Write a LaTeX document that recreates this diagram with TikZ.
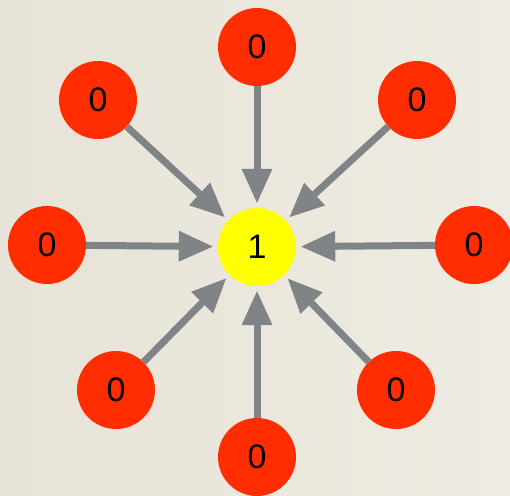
\documentclass[tikz,border=0pt]{standalone}
\usepackage{fontspec}
\setmainfont{Liberation Sans}
\usetikzlibrary{arrows.meta,positioning}

\definecolor{paper}{RGB}{238,235,226}
\definecolor{paperdark}{RGB}{231,227,216}
\definecolor{cellred}{RGB}{255,45,0}
\definecolor{cellyellow}{RGB}{255,255,0}
\definecolor{linkgray}{RGB}{128,132,135}

\begin{document}
\begin{tikzpicture}[x=1pt, y=1pt, >={Triangle[length=34pt, width=31pt, line width=0pt]}]

    \tikzstyle{cell} = [circle, minimum size=78pt, inner sep=0pt, font=\fontsize{34}{34}\selectfont]
    \tikzstyle{dead} = [cell, fill=cellred]
    \tikzstyle{alive} = [cell, fill=cellyellow]
    \tikzstyle{link} = [->, color=linkgray, line width=7pt, shorten >=5pt]

    % paper background
    \shade[left color=paperdark, right color=paper] (0,0) rectangle (510,495);
    \useasboundingbox (0,0) rectangle (510,495);

    \node (self)  [alive] at (257,248) {1};

    \node (n)     [dead]  at (257,448) {0};
    \node (nw)    [dead]  at (98,395)  {0};
    \node (ne)    [dead]  at (417,395) {0};
    \node (w)     [dead]  at (47,250)  {0};
    \node (e)     [dead]  at (474,250) {0};
    \node (sw)    [dead]  at (116,105) {0};
    \node (se)    [dead]  at (396,105) {0};
    \node (s)     [dead]  at (257,38)  {0};

    % every neighbour points at the middle cell
    \path[link]  (n)   edge  (self);
    \path[link]  (nw)  edge  (self);
    \path[link]  (ne)  edge  (self);
    \path[link]  (w)   edge  (self);
    \path[link]  (e)   edge  (self);
    \path[link]  (sw)  edge  (self);
    \path[link]  (se)  edge  (self);
    \path[link]  (s)   edge  (self);
\end{tikzpicture}
\end{document}
